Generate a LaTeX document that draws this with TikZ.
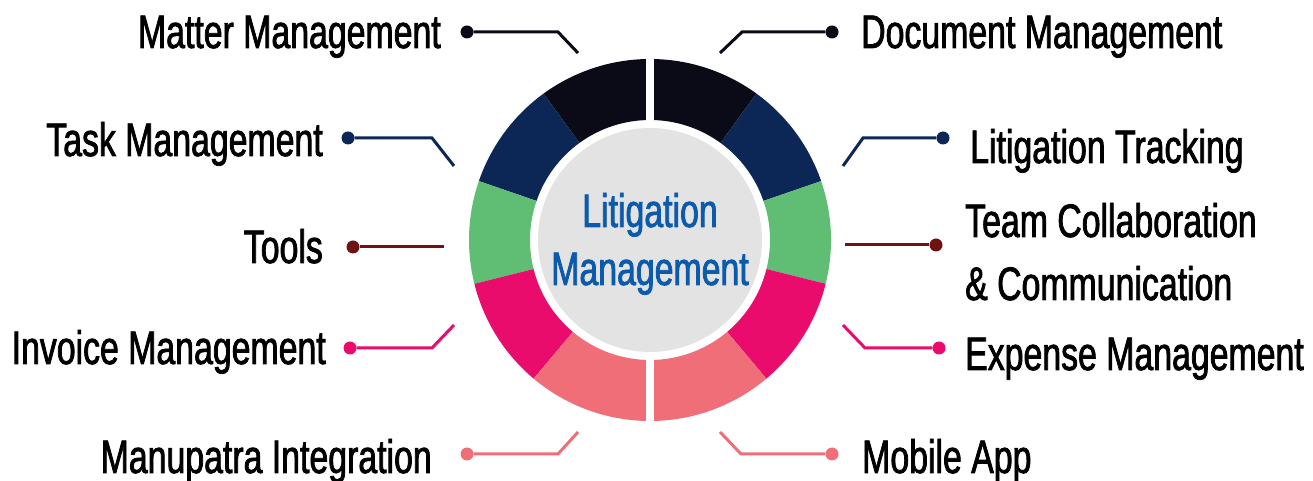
\documentclass[tikz,border=0pt]{standalone}
\usepackage{fontspec}
\setmainfont[FakeStretch=0.72, FakeBold=1.6]{Liberation Sans}
\definecolor{ringblack}{HTML}{0B0B17}
\definecolor{ringnavy}{HTML}{0C2656}
\definecolor{ringgreen}{HTML}{5FBE74}
\definecolor{ringpink}{HTML}{E90C6C}
\definecolor{ringsalmon}{HTML}{F06E78}
\definecolor{hubgrey}{HTML}{E3E3E3}
\definecolor{hubblue}{HTML}{0B5AAB}
\definecolor{linkmaroon}{HTML}{6E1212}
\begin{document}
\begin{tikzpicture}[x=1pt, y=1pt,
    lbl/.style={font=\fontsize{47}{63}\selectfont, inner sep=0pt},
    dot/.style={circle, fill, inner sep=0pt, minimum size=13pt},
    link/.style={line width=3pt}]
    \useasboundingbox (0,0) rectangle (1313,481);

    % Ring
    \begin{scope}[shift={(650,241)}]
        \foreach \a/\b/\c in {90/54/ringblack, 54/19/ringnavy, 19/-14/ringgreen,
                              -14/-50/ringpink, -50/-90/ringsalmon,
                              90/126/ringblack, 126/161/ringnavy, 161/194/ringgreen,
                              194/230/ringpink, 230/270/ringsalmon}
            \fill[\c] (\a:181) arc[start angle=\a, end angle=\b, radius=181]
                -- (\b:120) arc[start angle=\b, end angle=\a, radius=120] -- cycle;
        \fill[white] (-4,110) rectangle (4,190);
        \fill[white] (-4,-110) rectangle (4,-190);
        \fill[hubgrey] (0,0) circle (112);
    \end{scope}
    \node[lbl, text=hubblue, align=center, anchor=base] (hub) at (650,196)
        {Litigation\\[-5pt]Management};

    % Left labels
    \node[lbl, anchor=base east] (matter) at (441,433) {Matter Management};
    \node[lbl, anchor=base east] (task) at (323,325) {Task Management};
    \node[lbl, anchor=base east] (tools) at (323,218) {Tools};
    \node[lbl, anchor=base east] (invoice) at (326,117) {Invoice Management};
    \node[lbl, anchor=base east] (manupatra) at (432,8) {Manupatra Integration};

    % Right labels
    \node[lbl, anchor=base west] (document) at (861,433) {Document Management};
    \node[lbl, anchor=base west] (tracking) at (970,318) {Litigation Tracking};
    \node[lbl, anchor=base west, align=left] (team) at (965,181)
        {Team Collaboration\\\& Communication};
    \node[lbl, anchor=base west] (expense) at (965,111) {Expense Management};
    \node[lbl, anchor=base west] (mobile) at (862,8) {Mobile App};

    % Dots
    \node[dot, ringblack] (dMatter) at (467,449) {};
    \node[dot, ringnavy] (dTask) at (348,343) {};
    \node[dot, linkmaroon] (dTools) at (353,234) {};
    \node[dot, ringpink] (dInvoice) at (350,133) {};
    \node[dot, ringsalmon] (dManupatra) at (467,27) {};
    \node[dot, ringblack] (dDocument) at (832,449) {};
    \node[dot, ringnavy] (dTracking) at (943,343) {};
    \node[dot, linkmaroon] (dTeam) at (936,236) {};
    \node[dot, ringpink] (dExpense) at (939,133) {};
    \node[dot, ringsalmon] (dMobile) at (832,27) {};

    % Bends and ends near the ring
    \coordinate (bMatter) at (558,449);    \coordinate (eMatter) at (578,428);
    \coordinate (bTask) at (432,343);      \coordinate (eTask) at (454,315);
    \coordinate (eTools) at (444,234);
    \coordinate (bInvoice) at (432,133);   \coordinate (eInvoice) at (454,156);
    \coordinate (bManupatra) at (558,27);  \coordinate (eManupatra) at (578,49);
    \coordinate (bDocument) at (742,449);  \coordinate (eDocument) at (720,428);
    \coordinate (bTracking) at (863,343);  \coordinate (eTracking) at (843,315);
    \coordinate (eTeam) at (845,236);
    \coordinate (bExpense) at (865,133);   \coordinate (eExpense) at (843,156);
    \coordinate (bMobile) at (741,27);     \coordinate (eMobile) at (720,49);

    % Connectors
    \draw[link, ringblack] (dMatter) -- (bMatter) -- (eMatter);
    \draw[link, ringnavy] (dTask) -- (bTask) -- (eTask);
    \draw[link, linkmaroon] (dTools) -- (eTools);
    \draw[link, ringpink] (dInvoice) -- (bInvoice) -- (eInvoice);
    \draw[link, ringsalmon] (dManupatra) -- (bManupatra) -- (eManupatra);
    \draw[link, ringblack] (dDocument) -- (bDocument) -- (eDocument);
    \draw[link, ringnavy] (dTracking) -- (bTracking) -- (eTracking);
    \draw[link, linkmaroon] (dTeam) -- (eTeam);
    \draw[link, ringpink] (dExpense) -- (bExpense) -- (eExpense);
    \draw[link, ringsalmon] (dMobile) -- (bMobile) -- (eMobile);
\end{tikzpicture}
\end{document}
